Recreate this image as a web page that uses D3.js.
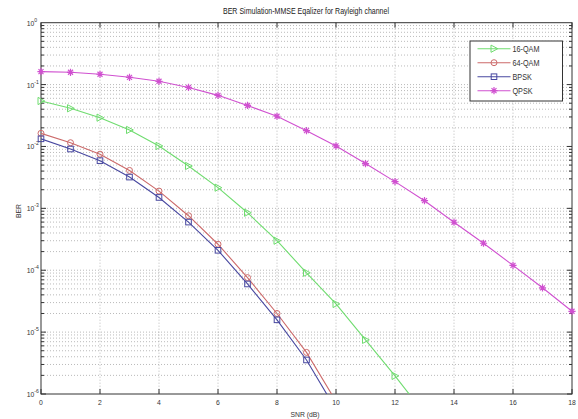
<!DOCTYPE html>
<html><head><meta charset="utf-8">
<script src="https://cdn.jsdelivr.net/npm/d3@7"></script>
<style>
body{margin:0;background:#fff;}
svg{display:block;font-family:"Liberation Sans",Arial,sans-serif;}
</style></head>
<body><svg id="c" width="578" height="419"></svg>
<script>
const snr = [0,1,2,3,4,5,6,7,8,9,10,11,12,13,14,15,16,17,18];
const qam16 = [0.0543,0.0414,0.0292,0.0185,0.0102,0.00484,0.00216,8.5e-4,3.0e-4,9.1e-5,2.85e-5,7.5e-6,1.96e-6,4.8e-7];
const qam64 = [0.0163,0.0115,0.0075,0.0041,0.0019,7.6e-4,2.63e-4,7.6e-5,2.0e-5,4.7e-6,7.6e-7];
const bpsk  = [0.0133,0.0091,0.0059,0.0032,0.0015,6.0e-4,2.1e-4,6.0e-5,1.58e-5,3.55e-6,5.6e-7];
const qpsk  = [0.162,0.158,0.147,0.131,0.113,0.090,0.067,0.046,0.0308,0.018,0.0102,0.0053,0.0027,0.00133,5.96e-4,2.73e-4,1.2e-4,5.2e-5,2.17e-5];
const seriesNames = ["16-QAM","64-QAM","BPSK","QPSK"];
const xTicks = [0,2,4,6,8,10,12,14,16,18];
const yExponents = [0,-1,-2,-3,-4,-5,-6];
const titleText = "BER Simulation-MMSE Eqalizer for Rayleigh channel";
const xLabel = "SNR (dB)";
const yLabel = "BER";

const L=41,R=572,T=22.7,B=394;
const svg=d3.select("#c");
const x=d3.scaleLinear().domain([0,18]).range([L,R]);
const y=d3.scaleLog().domain([1e-6,1]).range([B,T]);

svg.append("defs").append("clipPath").attr("id","clip").append("rect")
  .attr("x",L).attr("y",T).attr("width",R-L).attr("height",B-T);

// grid
const g=svg.append("g");
const minor=[];
yExponents.forEach(e=>{ if(e<0){ for(let k=1;k<=9;k++) minor.push(k*Math.pow(10,e)); } });
g.selectAll(".hg").data(minor.filter(v=>v>1e-6)).join("line")
  .attr("x1",L).attr("x2",R).attr("y1",d=>y(d)).attr("y2",d=>y(d))
  .attr("stroke","#a8a8a8").attr("stroke-width",0.8).attr("stroke-dasharray","1,2");
g.selectAll(".vg").data(xTicks.slice(1,-1)).join("line")
  .attr("x1",d=>x(d)).attr("x2",d=>x(d)).attr("y1",T).attr("y2",B)
  .attr("stroke","#a8a8a8").attr("stroke-width",0.8).attr("stroke-dasharray","1,2");

// box
svg.append("rect").attr("x",L).attr("y",T).attr("width",R-L).attr("height",B-T)
  .attr("fill","none").attr("stroke","#333").attr("stroke-width",1);

// ticks
const tk=svg.append("g").attr("stroke","#333").attr("stroke-width",1);
xTicks.forEach(v=>{
  tk.append("line").attr("x1",x(v)).attr("x2",x(v)).attr("y1",B).attr("y2",B-5);
  tk.append("line").attr("x1",x(v)).attr("x2",x(v)).attr("y1",T).attr("y2",T+5);
});
minor.forEach(v=>{
  const major = Math.abs(Math.log10(v)-Math.round(Math.log10(v)))<1e-9;
  const len = major?5:3;
  tk.append("line").attr("x1",L).attr("x2",L+len).attr("y1",y(v)).attr("y2",y(v));
  tk.append("line").attr("x1",R).attr("x2",R-len).attr("y1",y(v)).attr("y2",y(v));
});

// tick labels
svg.append("g").selectAll("text").data(xTicks).join("text").attr("class","cond")
  .attr("x",d=>x(d)).attr("y",B+11).attr("text-anchor","middle")
  .attr("font-size",8).attr("fill","#333").text(d=>d);
const yl=svg.append("g").selectAll("text").data(yExponents).join("text")
  .attr("x",26.7).attr("y",d=>y(Math.pow(10,d))+3).attr("font-size",8).attr("fill","#333");
yl.append("tspan").attr("class","condt").text("10");
yl.append("tspan").attr("class","condt").attr("dy",-4).attr("font-size",6).text(d=>d);

// labels
svg.append("text").attr("x",306).attr("y",14).attr("text-anchor","middle")
  .attr("font-size",8.5).attr("fill","#222").attr("textLength",166).attr("lengthAdjust","spacingAndGlyphs").text(titleText);
svg.append("text").attr("class","cond").attr("x",305).attr("y",417).attr("text-anchor","middle")
  .attr("font-size",8).attr("fill","#333").text(xLabel);
svg.append("text").attr("class","cond").attr("transform","translate(21,211) rotate(-90)").attr("text-anchor","middle")
  .attr("font-size",8).attr("fill","#333").text(yLabel);

const colors=["#6fdc6f","#cc6a6a","#4848a0","#d050d0"];
const marks=["tri","circ","sq","star"];
const data=[qam16,qam64,bpsk,qpsk];

function drawMarker(sel,type,color){
  if(type==="tri") sel.append("path").attr("d","M-3,-3.6L3.8,0L-3,3.6Z").attr("fill","none").attr("stroke",color).attr("stroke-width",1);
  else if(type==="circ") sel.append("circle").attr("r",3).attr("fill","none").attr("stroke",color).attr("stroke-width",1);
  else if(type==="sq") sel.append("rect").attr("x",-2.8).attr("y",-2.8).attr("width",5.6).attr("height",5.6).attr("fill","none").attr("stroke",color).attr("stroke-width",1);
  else sel.append("path").attr("d","M0,-3.6V3.6M-3.6,0H3.6M-2.5,-2.5L2.5,2.5M-2.5,2.5L2.5,-2.5").attr("stroke",color).attr("stroke-width",1.2);
}

const line=d3.line().x((d,i)=>x(snr[i])).y(d=>y(d));
data.forEach((s,k)=>{
  svg.append("path").attr("clip-path","url(#clip)").attr("d",line(s))
    .attr("fill","none").attr("stroke",colors[k]).attr("stroke-width",1.1);
  s.forEach((v,i)=>{
    if(v<1e-6) return;
    drawMarker(svg.append("g").attr("transform",`translate(${x(snr[i])},${y(v)})`),marks[k],colors[k]);
  });
});

// legend
const lg=svg.append("g");
lg.append("rect").attr("x",470).attr("y",41).attr("width",92.5).attr("height",60)
  .attr("fill","#fff").attr("stroke","#333").attr("stroke-width",1);
seriesNames.forEach((n,k)=>{
  const yy=48.7+k*14;
  lg.append("line").attr("x1",477.5).attr("x2",510.5).attr("y1",yy).attr("y2",yy).attr("stroke",colors[k]).attr("stroke-width",1.1);
  drawMarker(lg.append("g").attr("transform",`translate(494,${yy})`),marks[k],colors[k]);
  lg.append("text").attr("class","cond").attr("x",512.5).attr("y",yy+3).attr("font-size",8.5).attr("fill","#333").text(n);
});

// condense text like the reference's narrow font
svg.selectAll("text.cond").each(function(){
  const w=this.getComputedTextLength();
  d3.select(this).attr("textLength",w*0.85).attr("lengthAdjust","spacingAndGlyphs");
});
svg.selectAll("tspan.condt").each(function(){
  const w=this.getComputedTextLength();
  d3.select(this).attr("textLength",w*0.85).attr("lengthAdjust","spacingAndGlyphs");
});
</script></body></html>
